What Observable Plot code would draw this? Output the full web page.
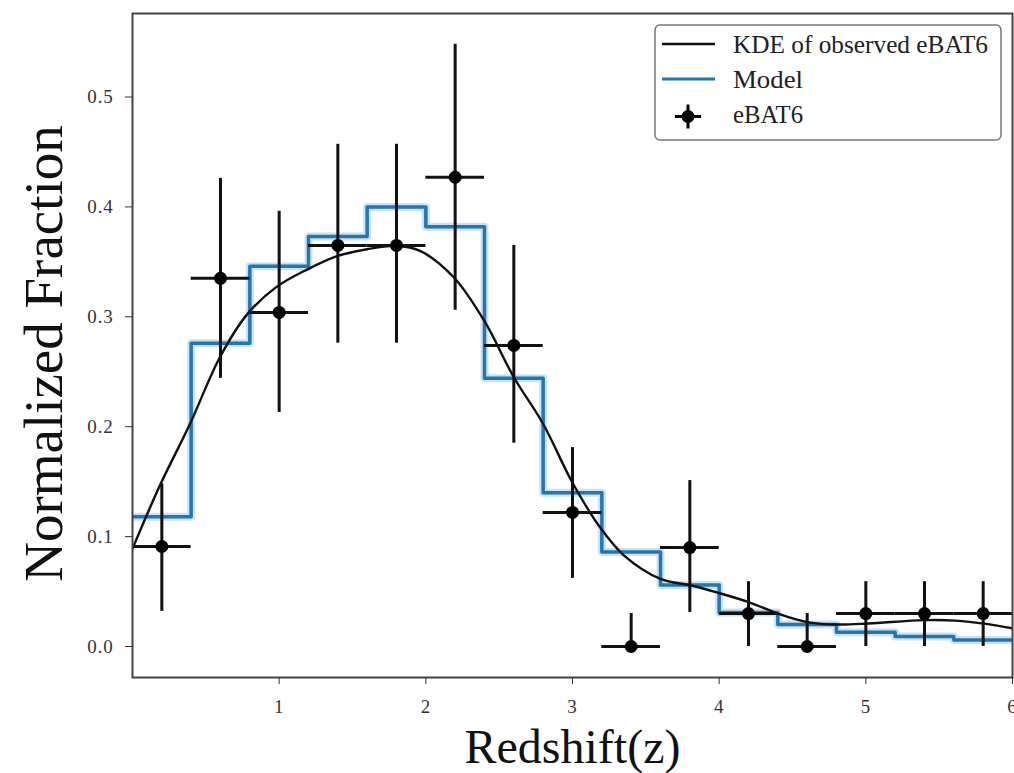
<!DOCTYPE html>
<html><head><meta charset="utf-8">
<script src="https://cdn.jsdelivr.net/npm/d3@7"></script>
<script src="https://cdn.jsdelivr.net/npm/@observablehq/plot@0.6"></script>
<style>
body{margin:0;background:#fff}
#wrap{position:relative;width:1014px;height:773px;overflow:hidden}
#legend{position:absolute;left:654px;top:24px}
#legend text{font-family:"Liberation Serif",serif;font-size:25px;fill:#222}
</style></head><body><div id="wrap"></div>
<script>
// observed eBAT6 points
const obsZ    = [0.2, 0.6, 1.0, 1.4, 1.8, 2.2, 2.6, 3.0, 3.4, 3.8, 4.2, 4.6, 5.0, 5.4, 5.8];
const obsFrac = [0.091, 0.335, 0.304, 0.365, 0.365, 0.427, 0.274, 0.122, 0.0, 0.090, 0.030, 0.0, 0.030, 0.030, 0.030];
const obsLo   = [0.032, 0.244, 0.213, 0.276, 0.276, 0.306, 0.185, 0.062, 0.0, 0.031, 0.0, 0.0, 0.0, 0.0, 0.0];
const obsHi   = [0.148, 0.426, 0.396, 0.457, 0.457, 0.548, 0.365, 0.181, 0.030, 0.151, 0.059, 0.030, 0.059, 0.059, 0.059];
const obsXerr = [0.2, 0.2, 0.2, 0.2, 0.2, 0.2, 0.2, 0.2, 0.2, 0.2, 0.2, 0.2, 0.2, 0.2, 0.2];

// model step histogram (bin edges, value of bin starting at edge)
const modelEdges = [0.0, 0.4, 0.8, 1.2, 1.6, 2.0, 2.4, 2.8, 3.2, 3.6, 4.0, 4.4, 4.8, 5.2, 5.6, 6.0];
const modelFrac  = [0.118, 0.276, 0.346, 0.373, 0.400, 0.382, 0.244, 0.140, 0.086, 0.056, 0.031, 0.020, 0.013, 0.009, 0.006, 0.006];

// KDE of observed
const kdeZ    = [0.0, 0.185, 0.39, 0.595, 0.78, 0.98, 1.19, 1.39, 1.60, 1.80, 1.96, 2.19, 2.40, 2.60, 2.80, 3.0, 3.19, 3.35, 3.60, 3.81, 3.99, 4.21, 4.40, 4.61, 4.81, 5.02, 5.40, 5.61, 5.82, 6.02];
const kdeFrac = [0.089, 0.146, 0.202, 0.263, 0.302, 0.327, 0.343, 0.355, 0.3615, 0.3645, 0.360, 0.336, 0.296, 0.245, 0.2025, 0.149, 0.108, 0.083, 0.0615, 0.0555, 0.049, 0.040, 0.030, 0.022, 0.020, 0.021, 0.024, 0.0236, 0.0206, 0.016];

const xTicks = [1, 2, 3, 4, 5, 6];
const yTicks = [0.0, 0.1, 0.2, 0.3, 0.4, 0.5];
const xLabel = "Redshift(z)";
const yLabel = "Normalized Fraction";
const legendLabels = ["KDE of observed eBAT6", "Model", "eBAT6"];

const obs = obsZ.map((z, i) => ({z, f: obsFrac[i], lo: obsLo[i], hi: obsHi[i], x1: z - obsXerr[i], x2: z + obsXerr[i]}));
const model = modelEdges.map((z, i) => ({z, f: modelFrac[i]}));
const kde = kdeZ.map((z, i) => ({z, f: kdeFrac[i]}));

const blue = "#1f77b4";
const chart = Plot.plot({
  width: 1014, height: 773,
  marginLeft: 132, marginRight: 2, marginTop: 13, marginBottom: 96,
  style: {fontFamily: "'Liberation Serif', serif", background: "#fff", color: "#222"},
  x: {domain: [0, 6]},
  y: {domain: [-0.0282, 0.576]},
  marks: [
    Plot.line(model, {x: "z", y: "f", curve: "step-after", stroke: blue, strokeWidth: 8, strokeOpacity: 0.22, clip: true}),
    Plot.line(model, {x: "z", y: "f", curve: "step-after", stroke: blue, strokeWidth: 3.5, clip: true}),
    Plot.line(kde, {x: "z", y: "f", curve: "catmull-rom", stroke: "#111", strokeWidth: 2.4, clip: true}),
    Plot.ruleX(obs, {x: "z", y1: "lo", y2: "hi", stroke: "#111", strokeWidth: 3, clip: true}),
    Plot.ruleY(obs, {y: "f", x1: "x1", x2: "x2", stroke: "#111", strokeWidth: 3, clip: true}),
    Plot.dot(obs, {x: "z", y: "f", r: 6.5, fill: "#000", clip: true}),
    Plot.frame({stroke: "#444", strokeWidth: 2}),
    Plot.axisX({ticks: xTicks, tickSize: 7, tickPadding: 15, fontSize: 19, label: null, color: "#333", tickFormat: d => String(d)}),
    Plot.axisY({ticks: yTicks, tickSize: 7, tickPadding: 12, fontSize: 19, label: null, color: "#333", tickFormat: d3.format(".1f")}),
    Plot.text([yLabel], {frameAnchor: "left", textAnchor: "middle", rotate: -90, lineAnchor: "bottom", dx: -71, dy: 8, fontSize: 55, fill: "#111", ariaLabel: "ylabel"}),
    Plot.text([xLabel], {frameAnchor: "bottom", textAnchor: "middle", lineAnchor: "bottom", dy: 85, fontSize: 48, fill: "#111", ariaLabel: "xlabel"})
  ]
});

const wrap = document.getElementById("wrap");
wrap.appendChild(chart);

const yl = chart.querySelector('g[aria-label="ylabel"] text');
if (yl) { yl.setAttribute("textLength", 515); yl.setAttribute("lengthAdjust", "spacingAndGlyphs"); }
const xl = chart.querySelector('g[aria-label="xlabel"] text');
if (xl) { xl.setAttribute("textLength", 257); xl.setAttribute("lengthAdjust", "spacingAndGlyphs"); }
chart.querySelectorAll('g[aria-label="y-axis tick label"] text, g[aria-label="x-axis tick label"] text')
  .forEach(t => t.setAttribute("letter-spacing", "0.8"));

// legend overlay
const lg = d3.select(wrap).append("svg").attr("id", "legend").attr("width", 352).attr("height", 120);
lg.append("rect").attr("x", 1).attr("y", 1).attr("width", 346).attr("height", 115).attr("rx", 5)
  .attr("fill", "#fff").attr("stroke", "#777").attr("stroke-width", 1.5);
const rowsY = [20, 55, 92.5];
const baseY = [29, 64, 99];
lg.append("line").attr("x1", 8).attr("x2", 61).attr("y1", rowsY[0]).attr("y2", rowsY[0]).attr("stroke", "#111").attr("stroke-width", 2.5);
lg.append("line").attr("x1", 8).attr("x2", 61).attr("y1", rowsY[1]).attr("y2", rowsY[1]).attr("stroke", blue).attr("stroke-width", 2.8);
lg.append("line").attr("x1", 21).attr("x2", 47).attr("y1", rowsY[2]).attr("y2", rowsY[2]).attr("stroke", "#000").attr("stroke-width", 3);
lg.append("line").attr("x1", 34).attr("x2", 34).attr("y1", rowsY[2] - 12).attr("y2", rowsY[2] + 12).attr("stroke", "#000").attr("stroke-width", 3);
lg.append("circle").attr("cx", 34).attr("cy", rowsY[2]).attr("r", 6.5).attr("fill", "#000");
lg.selectAll("text.lbl").data(legendLabels).join("text").attr("class", "lbl")
  .attr("x", 79).attr("y", (d, i) => baseY[i])
  .attr("textLength", (d, i) => [255, 70, 70][i]).attr("lengthAdjust", "spacingAndGlyphs")
  .text(d => d);
</script></body></html>
